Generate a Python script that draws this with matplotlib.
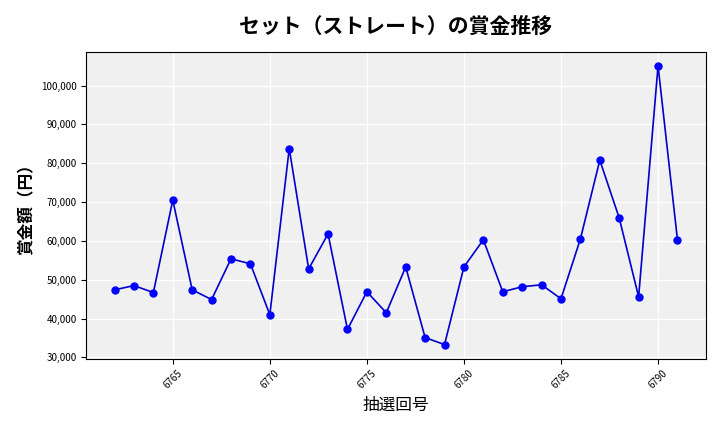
import matplotlib.pyplot as plt
from matplotlib.ticker import FuncFormatter

plt.rcParams["font.family"] = "Noto Sans CJK JP"

draws = list(range(6762, 6792))
prizes = [47400, 48500, 46700, 70500, 47400, 44900, 55400, 54100, 41000, 83800,
          52800, 61800, 37200, 46900, 41500, 53300, 35100, 33300, 53300, 60300,
          46900, 48200, 48700, 45100, 60500, 80800, 65900, 45600, 105100, 60300]

fig, ax = plt.subplots(figsize=(7.2, 4.32), dpi=100)
fig.subplots_adjust(left=0.12, right=0.98, top=0.88, bottom=0.17)
ax.set_facecolor("#f0f0f0")
ax.grid(True, color="white", linewidth=1)
ax.set_axisbelow(True)
ax.plot(draws, prizes, color="#0000cc", marker="o", markersize=5,
        markerfacecolor="blue", markeredgecolor="blue", linewidth=1.2)

ax.set_xticks([6765, 6770, 6775, 6780, 6785, 6790])
ax.tick_params(axis="x", labelrotation=45, labelsize=7)
ax.tick_params(axis="y", labelsize=7)
ax.yaxis.set_major_formatter(FuncFormatter(lambda v, p: f"{int(v):,}"))
ax.set_ylim(29700, 108700)

ax.set_title("セット（ストレート）の賞金推移", fontsize=15, fontweight="bold", pad=14)
ax.set_xlabel("抽選回号", fontsize=12)
ax.set_ylabel("賞金額（円）", fontsize=12, fontweight="bold")

plt.savefig("out.png")
